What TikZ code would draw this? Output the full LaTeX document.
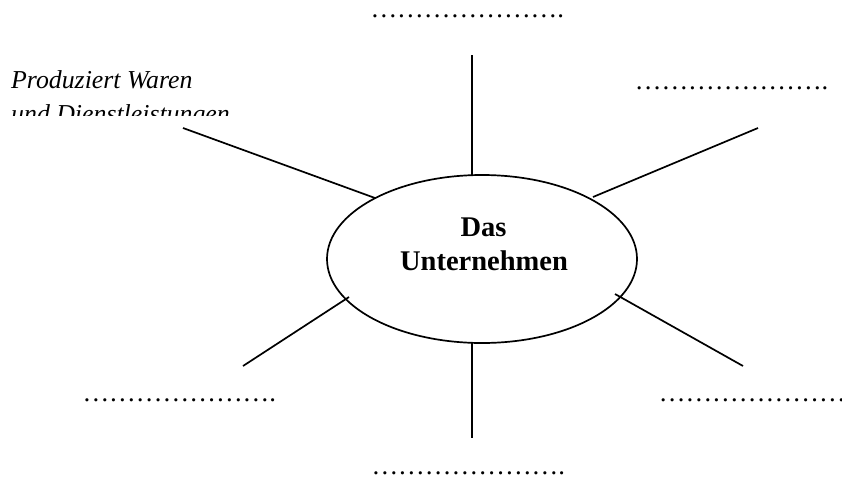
\documentclass[tikz,border=0pt]{standalone}
\usepackage{fontspec}
\setmainfont{Liberation Serif}
\usetikzlibrary{shapes.geometric}

\tikzset{
  spoke/.style={draw=black, line width=1.7pt},
  hub/.style={ellipse, draw=black, line width=1.7pt, minimum width=310pt,
              minimum height=168pt, inner sep=0pt},
  title/.style={inner sep=0pt, anchor=base,
                font=\fontsize{28.5}{34}\selectfont\bfseries},
  blank/.style={inner sep=0pt, text height=4pt, text depth=0pt,
                font=\fontsize{26.7}{34}\selectfont},
  note/.style={inner sep=0pt, anchor=base west,
               font=\fontsize{25.8}{34}\selectfont\itshape},
}
\newcommand{\fillin}{\dots\dots\dots\dots\dots\dots\dots.}

\begin{document}
\begin{tikzpicture}[x=1pt, y=-1pt]
  \useasboundingbox (0,0) rectangle (842,477);

  % central ellipse with its title
  \node[hub] (firm) at (482,259) {};
  \node[title] (das)  at (483.5,236) {Das};
  \node[title] (unt)  at (484,270) {Unternehmen};

  % free ends of the six spokes
  \coordinate (tIn)  at (472,175);  \coordinate (tOut)  at (472,55);
  \coordinate (bIn)  at (472,343);  \coordinate (bOut)  at (472,438);
  \coordinate (ulIn) at (375,198);  \coordinate (ulOut) at (183,128);
  \coordinate (urIn) at (593,197);  \coordinate (urOut) at (758,128);
  \coordinate (llIn) at (349,297);  \coordinate (llOut) at (243,366);
  \coordinate (lrIn) at (615,294);  \coordinate (lrOut) at (743,366);

  \draw[spoke] (tIn)  -- (tOut);
  \draw[spoke] (bIn)  -- (bOut);
  \draw[spoke] (ulIn) -- (ulOut);
  \draw[spoke] (urIn) -- (urOut);
  \draw[spoke] (llIn) -- (llOut);
  \draw[spoke] (lrIn) -- (lrOut);

  % dotted blanks to fill in
  \node[blank, anchor=base east] (blankT)  at (564.3,17.5)  {\fillin};
  \node[blank, anchor=base west] (blankUR) at (634.6,89.5)  {\fillin};
  \node[blank, anchor=base east] (blankLL) at (276.3,401.5) {\fillin};
  \node[blank, anchor=base west] (blankLR) at (658.6,401.5) {\fillin};
  \node[blank, anchor=base east] (blankB)  at (565.3,474.5) {\fillin};

  % filled-in example, its second line cut off below
  \begin{scope}
    \clip (0,0) rectangle (842,115);
    \node[note] (ex1) at (11,88)  {Produziert Waren};
    \node[note] (ex2) at (11,122) {und Dienstleistungen};
  \end{scope}
\end{tikzpicture}
\end{document}
